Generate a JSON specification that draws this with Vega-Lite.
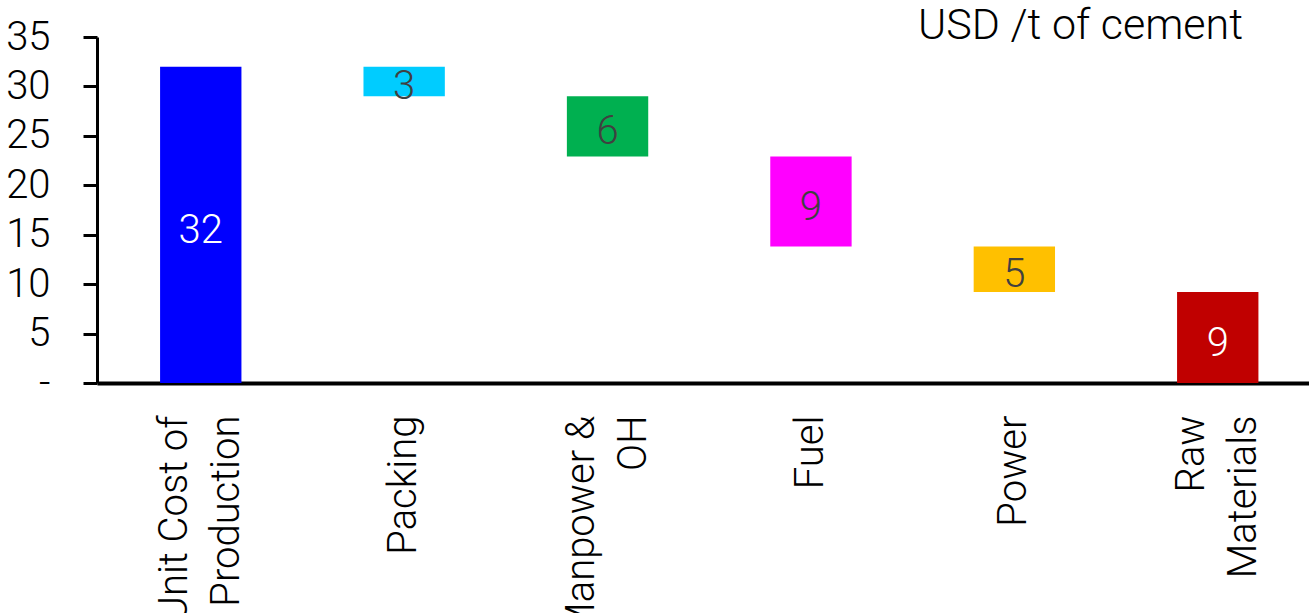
{
  "$schema": "https://vega.github.io/schema/vega-lite/v6.json",
  "width": 1212,
  "height": 346,
  "autosize": {"type": "none"},
  "padding": {"left": 97, "top": 37, "right": 0, "bottom": 230},
  "background": "white",
  "config": {"view": {"stroke": null}, "font": "Roboto"},
  "title": {
    "text": "USD /t of cement",
    "orient": "top",
    "anchor": "end",
    "font": "Roboto",
    "fontSize": 43,
    "fontWeight": 300,
    "color": "#000000",
    "dx": -66,
    "offset": -65,
    "baseline": "alphabetic"
  },
  "data": {
    "values": [
      {"category": "Unit Cost of\nProduction", "start": 0, "end": 32, "value": 32},
      {"category": "Packing", "start": 32, "end": 29.0, "value": 3.0},
      {"category": "Manpower &\nOH", "start": 29.0, "end": 22.9, "value": 6.1},
      {"category": "Fuel", "start": 22.9, "end": 13.8, "value": 9.1},
      {"category": "Power", "start": 13.8, "end": 9.2, "value": 4.6},
      {"category": "Raw\nMaterials", "start": 9.2, "end": 0, "value": 9.2}
    ]
  },
  "encoding": {
    "x": {
      "field": "category",
      "type": "nominal",
      "sort": null,
      "scale": {"paddingInner": 0.6, "paddingOuter": 0.2794, "align": 0.555},
      "axis": {
        "title": null,
        "labelAngle": -90,
        "labelAlign": "right",
        "labelBaseline": "middle",
        "labelPadding": 32,
        "labelOffset": {"condition": {"test": "indexof(datum.value, '\\n') >= 0", "value": -26}, "value": 0},
        "ticks": false,
        "domainColor": "#000000",
        "domainWidth": 4,
        "labelFont": "Roboto",
        "labelFontSize": 40,
        "labelFontWeight": 300,
        "labelColor": "#000000",
        "labelLineHeight": 52,
        "labelLimit": 600,
        "labelOverlap": false,
        "labelBound": false,
        "labelExpr": "split(datum.label, '\\n')"
      }
    }
  },
  "layer": [
    {
      "mark": {"type": "bar"},
      "encoding": {
        "y": {
          "field": "start",
          "type": "quantitative",
          "scale": {"domain": [0, 35], "nice": false},
          "axis": {
            "title": null,
            "values": [0, 5, 10, 15, 20, 25, 30, 35],
            "labelExpr": "datum.value == 0 ? '-' : datum.label",
            "grid": false,
            "domainColor": "#000000",
            "domainWidth": 3,
            "tickColor": "#000000",
            "tickWidth": 3,
            "tickSize": 14,
            "labelPadding": 33,
            "labelFont": "Roboto",
            "labelFontSize": 40,
            "labelFontWeight": 300,
            "labelColor": "#000000",
            "labelBaseline": "middle"
          }
        },
        "y2": {"field": "end"},
        "color": {
          "field": "category",
          "type": "nominal",
          "scale": {
            "domain": ["Unit Cost of\nProduction", "Packing", "Manpower &\nOH", "Fuel", "Power", "Raw\nMaterials"],
            "range": ["#0000FF", "#00CCFF", "#00B050", "#FF00FF", "#FFC000", "#C00000"]
          },
          "legend": null
        }
      }
    },
    {
      "transform": [{"fold": ["start", "end"], "as": ["edge", "level"]}],
      "mark": {"type": "text", "font": "Roboto", "fontSize": 40, "fontWeight": 300, "baseline": "middle", "align": "center", "dy": 6},
      "encoding": {
        "y": {"aggregate": "mean", "field": "level", "type": "quantitative"},
        "text": {"field": "value", "type": "quantitative", "format": ".0f"},
        "color": {
          "condition": {"test": "datum.category == 'Unit Cost of\\nProduction' || datum.category == 'Raw\\nMaterials'", "value": "#FFFFFF"},
          "value": "#404040"
        }
      }
    }
  ]
}
